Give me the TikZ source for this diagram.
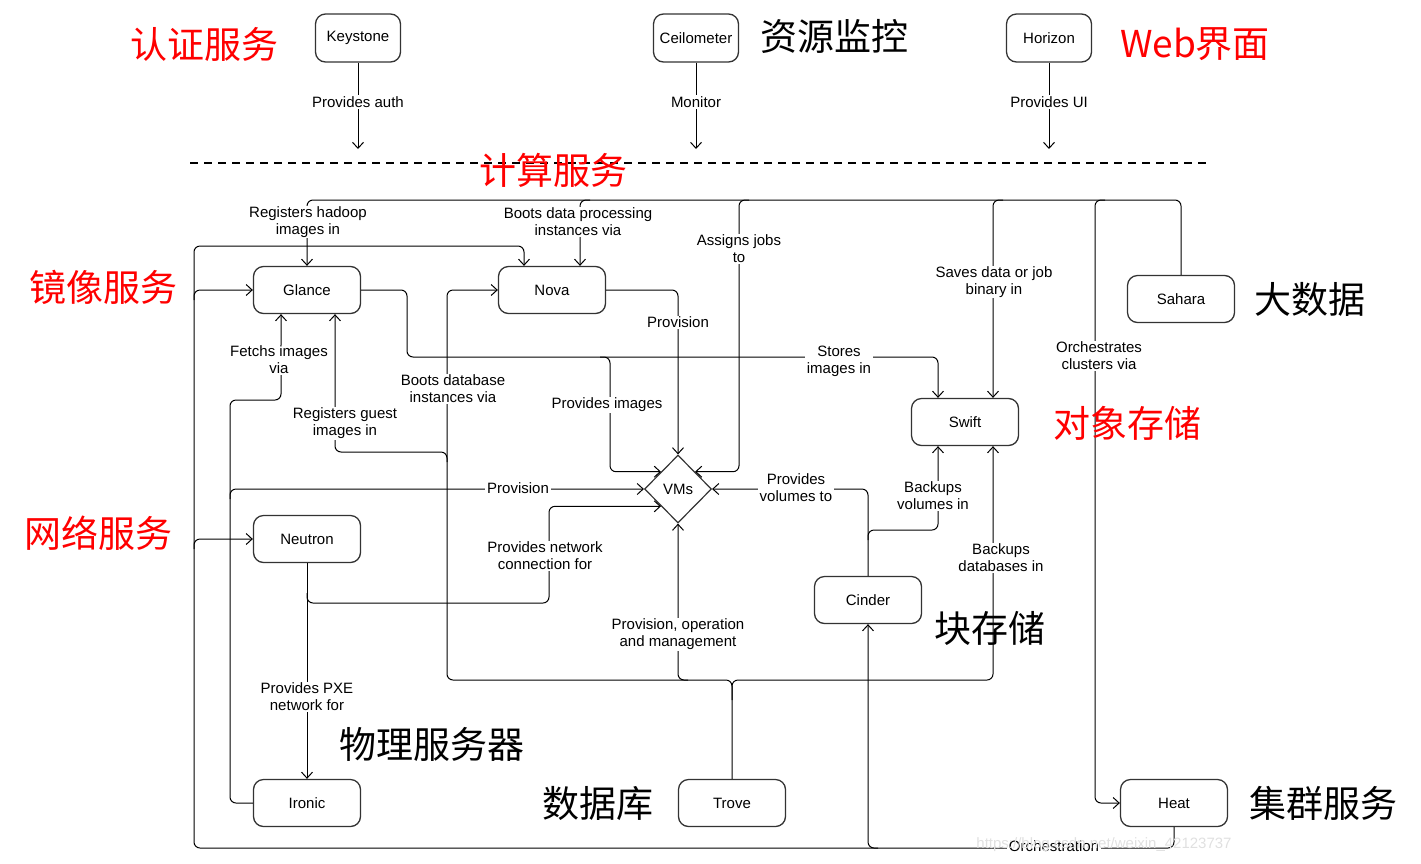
\documentclass[tikz,border=0pt]{standalone}
\usepackage{fontspec}
\setmainfont{Liberation Sans}
\newfontfamily\zhfont{Noto Sans CJK SC}
\usetikzlibrary{arrows.meta,shapes.geometric}

\newcommand{\lblfont}{\fontsize{15}{17}\selectfont}

\begin{document}
\begin{tikzpicture}[x=1pt, y=-1pt,
        box/.style={draw=black!80, line width=1.3pt, rounded corners=10pt, minimum width=107pt, minimum height=47pt, inner sep=0pt, font=\lblfont},
        topbox/.style={box, minimum width=85pt, minimum height=48pt},
        link/.style={line width=1pt, rounded corners=6pt, -{Straight Barb[length=6pt,width=11pt]}},
        tag/.style={fill=white, font=\lblfont, align=center, inner xsep=2pt, inner ysep=1pt},
        zh/.style={font=\zhfont\fontsize{37}{40}\selectfont}]
    \useasboundingbox (0,0) rectangle (1421,863);

    % services
    \node[topbox] (keystone) at (358,38) {Keystone};
    \node[topbox] (ceilometer) at (696,38) {Ceilometer};
    \node[topbox] (horizon) at (1049,38) {Horizon};
    \node[box] (glance) at (307,290) {Glance};
    \node[box] (nova) at (552,290) {Nova};
    \node[box] (sahara) at (1181,299) {Sahara};
    \node[box] (swift) at (965,422) {Swift};
    \node[box] (neutron) at (307,539) {Neutron};
    \node[box] (cinder) at (868,600) {Cinder};
    \node[box] (ironic) at (307,803) {Ironic};
    \node[box] (trove) at (732,803) {Trove};
    \node[box] (heat) at (1174,803) {Heat};
    \node[draw=black!80, line width=1.2pt, diamond, minimum width=67pt, minimum height=68pt, inner sep=0pt, font=\lblfont] (vms) at (678,489) {VMs};

    % bus lines
    \coordinate (limit) at (0,149);
    \coordinate (top bus) at (0,200);
    \coordinate (heat bus) at (0,848);
    \coordinate (db bus) at (0,680);

    \draw[line width=2.5pt, dash pattern=on 8pt off 6pt] (190,163) -- (1210,163);

    % top row
    \draw[link] (keystone) -- (keystone.south |- limit);
    \draw[link] (ceilometer) -- (ceilometer.south |- limit);
    \draw[link] (horizon) -- (horizon.south |- limit);

    % sahara
    \draw[link] (sahara.north) |- (glance.north |- top bus) -- (glance.north);
    \draw[link] (590,200) -| ([xshift=28pt]nova.north);
    \draw[link] (749,200) -| (739,300) |- (vms.north east);
    \draw[link] (1003,200) -| ([xshift=28pt]swift.north);
    \draw[link] (1105,200) -| (1095,500) |- (heat.west);

    % glance
    \draw[link] (glance.east) -| (407,357) -| ([xshift=-27pt]swift.north);
    \draw[link] (600,357) -| (610,420) |- (vms.north west);

    % nova
    \draw[link] (nova.east) -| (vms.north);

    % trove
    \draw[link] (trove.north) |- (447,680) |- (nova.west);
    \draw[link] (447,462) |- ([xshift=28pt]glance.south |- 0,452) -- ([xshift=28pt]glance.south);
    \draw[link] (688,680) -| (vms.south);
    \draw[link] (732,700) |- ([xshift=28pt]swift.south |- db bus) -- ([xshift=28pt]swift.south);

    % heat
    \draw[link] (heat.south) |- (194,848) |- ([xshift=-28pt]nova.north |- 0,246) -- ([xshift=-28pt]nova.north);
    \draw[link] (194,300) |- (glance.west);
    \draw[link] (194,549) |- (neutron.west);
    \draw[link] (878,848) -| (cinder.south);

    % ironic
    \draw[link] (ironic.west) -| (230,400) -| ([xshift=-26pt]glance.south);
    \draw[link] (230,499) |- (vms.west);

    % neutron
    \draw[link] (neutron.south) -- (ironic.north);
    \draw[link] (307,593) |- (549,603) |- (vms.south west);

    % cinder
    \draw[link] (cinder.north) |- (vms.east);
    \draw[link] (868,540) |- (938,530) -- ([xshift=-27pt]swift.south);

    % labels
    \node[tag] (auth) at (358,102) {Provides auth};
    \node[tag] (monitor) at (696,102) {Monitor};
    \node[tag] (ui) at (1049,102) {Provides UI};
    \node[tag] (hadoop) at (308,222) {Registers hadoop\\images in};
    \node[tag] (boots data) at (578,222) {Boots data processing\\instances via};
    \node[tag] (jobs) at (739,249) {Assigns jobs\\to};
    \node[tag] (saves) at (994,282) {Saves data or job\\binary in};
    \node[tag] (clusters) at (1099,356) {Orchestrates\\clusters via};
    \node[tag] (nova prov) at (678,322) {Provision};
    \node[tag] (stores) at (839,361) {Stores\\images in};
    \node[tag] (fetch) at (279,360) {Fetchs images\\via};
    \node[tag] (boots db) at (453,389) {Boots database\\instances via};
    \node[tag] (images) at (607,405) {Provides images};
    \node[tag] (guest) at (345,423) {Registers guest\\images in};
    \node[tag] (ironic prov) at (518,488) {Provision};
    \node[tag] (volumes) at (796,488) {Provides\\volumes to};
    \node[tag] (backup vol) at (933,496) {Backups\\volumes in};
    \node[tag] (network) at (545,556) {Provides network\\connection for};
    \node[tag] (backup db) at (1001,558) {Backups\\databases in};
    \node[tag] (manage) at (678,634) {Provision, operation\\and management};
    \node[tag] (pxe) at (307,697) {Provides PXE\\network for};
    \node[tag] (orch) at (1054,846) {Orchestration};
    \node[font=\lblfont, text=black!12] (mark) at (1104,845) {https://blog.csdn.net/weixin\_42123737};

    % chinese captions
    \node[zh, text=red] (auth zh) at (204,44) {认证服务};
    \node[zh] (monitor zh) at (834,36) {资源监控};
    \node[zh, text=red] (web zh) at (1195,44) {Web界面};
    \node[zh, text=red] (compute zh) at (553,170) {计算服务};
    \node[zh, text=red] (image zh) at (103,287) {镜像服务};
    \node[zh] (data zh) at (1310,299) {大数据};
    \node[zh, text=red] (object zh) at (1127,423) {对象存储};
    \node[zh, text=red] (network zh) at (98,533) {网络服务};
    \node[zh] (block zh) at (990,628) {块存储};
    \node[zh] (server zh) at (432,744) {物理服务器};
    \node[zh] (db zh) at (598,803) {数据库};
    \node[zh] (cluster zh) at (1323,803) {集群服务};
\end{tikzpicture}
\end{document}
